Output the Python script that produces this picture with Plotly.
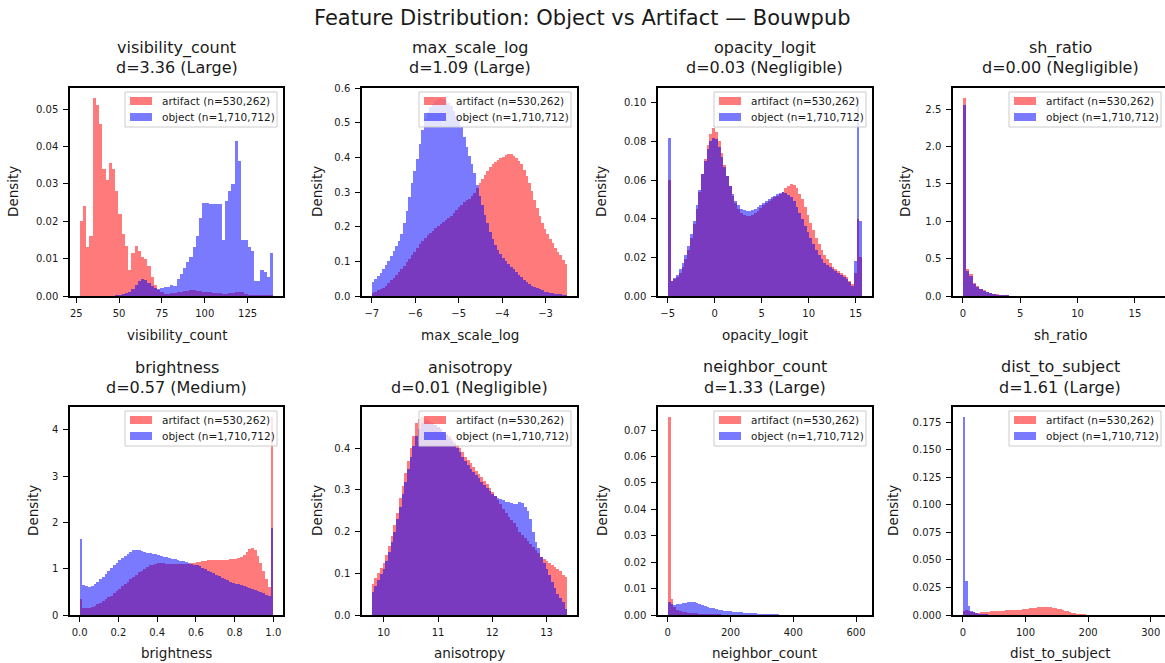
import numpy as np
import plotly.graph_objects as go

# ---------------- data ----------------
features = ["visibility_count", "max_scale_log", "opacity_logit", "sh_ratio",
            "brightness", "anisotropy", "neighbor_count", "dist_to_subject"]
cohens_d = [3.36, 1.09, 0.03, 0.00, 0.57, 0.01, 1.33, 1.61]
effect_size = ["Large", "Large", "Negligible", "Negligible",
               "Medium", "Negligible", "Large", "Large"]
n_artifact = 530262
n_object = 1710712

# histogram bin ranges (data extent of each feature)
bin_lo = [27.0, -7.0, -5.0, 0.0, 0.0, 9.78, 0.0, 0.0]
bin_hi = [140.0, -2.5, 15.7, 17.2, 1.0, 13.38, 620.0, 315.0]

visibility_count_artifact = [
    0.020, 0.024, 0.013, 0.016, 0.053, 0.051, 0.046, 0.034, 0.031, 0.0355,
    0.034, 0.028, 0.022, 0.0165, 0.0135, 0.007, 0.0115, 0.0135, 0.012, 0.0105,
    0.010, 0.008, 0.005, 0.003, 0.0015, 0.001, 0.0006, 0.0006, 0.0007, 0.0008,
    0.0010, 0.0012, 0.0013, 0.0014, 0.0015, 0.0015, 0.0014, 0.0013, 0.0012, 0.0011,
    0.0010, 0.0009, 0.0008, 0.0007, 0.0006, 0.0006, 0.0007, 0.0008, 0.0010, 0.0012,
    0.0010, 0.0006, 0.0004, 0.0003, 0.0003, 0.0002, 0.0002, 0.0002, 0.0002, 0.0002]
visibility_count_object = [
    0, 0, 0, 0, 0, 0, 0, 0, 0, 0,
    0, 0.0002, 0.0003, 0.0005, 0.0008, 0.0012, 0.002, 0.003, 0.004, 0.0045,
    0.0042, 0.0035, 0.0028, 0.0022, 0.002, 0.0022, 0.0025, 0.0025, 0.003, 0.0028,
    0.0045, 0.006, 0.0075, 0.009, 0.0105, 0.013, 0.016, 0.021, 0.025, 0.0248,
    0.0245, 0.0245, 0.0245, 0.0245, 0.015, 0.0255, 0.028, 0.030, 0.0415, 0.036,
    0.015, 0.015, 0.013, 0.012, 0.004, 0.004, 0.007, 0.0065, 0.005, 0.0115]

max_scale_log_artifact = [
    0.008, 0.012, 0.016, 0.020, 0.024, 0.030, 0.037, 0.045, 0.053, 0.061,
    0.069, 0.078, 0.088, 0.098, 0.108, 0.118, 0.127, 0.138, 0.150, 0.160,
    0.168, 0.175, 0.182, 0.188, 0.195, 0.202, 0.208, 0.214, 0.220, 0.226,
    0.232, 0.240, 0.248, 0.256, 0.263, 0.270, 0.276, 0.281, 0.288, 0.298,
    0.312, 0.325, 0.338, 0.350, 0.362, 0.372, 0.380, 0.387, 0.393, 0.398,
    0.402, 0.406, 0.410, 0.409, 0.405, 0.399, 0.391, 0.380, 0.365, 0.346,
    0.325, 0.302, 0.278, 0.254, 0.230, 0.210, 0.194, 0.178, 0.165, 0.152,
    0.140, 0.128, 0.117, 0.105, 0.092]
max_scale_log_object = [
    0.040, 0.048, 0.057, 0.067, 0.078, 0.090, 0.102, 0.115, 0.130, 0.145,
    0.160, 0.180, 0.210, 0.245, 0.285, 0.325, 0.360, 0.395, 0.440, 0.480,
    0.510, 0.530, 0.545, 0.555, 0.563, 0.568, 0.572, 0.570, 0.565, 0.558,
    0.548, 0.535, 0.520, 0.505, 0.488, 0.460, 0.430, 0.405, 0.380, 0.355,
    0.320, 0.290, 0.262, 0.235, 0.210, 0.185, 0.165, 0.148, 0.133, 0.120,
    0.110, 0.101, 0.093, 0.085, 0.077, 0.069, 0.061, 0.054, 0.047, 0.041,
    0.035, 0.030, 0.026, 0.022, 0.019, 0.016, 0.013, 0.011, 0.009, 0.008,
    0.007, 0.006, 0.005, 0.004, 0.004]

opacity_logit_artifact = [
    0.060, 0.008, 0.009, 0.010, 0.012, 0.015, 0.019, 0.024, 0.030, 0.037,
    0.045, 0.054, 0.063, 0.071, 0.078, 0.084, 0.087, 0.085, 0.080, 0.074,
    0.068, 0.062, 0.057, 0.052, 0.048, 0.045, 0.043, 0.042, 0.0415, 0.0415,
    0.042, 0.043, 0.044, 0.0455, 0.047, 0.048, 0.049, 0.050, 0.051, 0.052,
    0.053, 0.054, 0.056, 0.057, 0.058, 0.0575, 0.056, 0.053, 0.050, 0.046,
    0.042, 0.038, 0.034, 0.030, 0.027, 0.024, 0.021, 0.019, 0.017, 0.015,
    0.014, 0.013, 0.012, 0.011, 0.010, 0.008, 0.006, 0.012, 0.040, 0.020]
opacity_logit_object = [
    0.082, 0.008, 0.0095, 0.011, 0.014, 0.017, 0.021, 0.026, 0.032, 0.039,
    0.047, 0.055, 0.063, 0.070, 0.076, 0.080, 0.082, 0.081, 0.077, 0.072,
    0.067, 0.062, 0.057, 0.053, 0.049, 0.047, 0.045, 0.0445, 0.044, 0.044,
    0.0445, 0.045, 0.046, 0.047, 0.048, 0.049, 0.050, 0.051, 0.052, 0.053,
    0.0535, 0.054, 0.0535, 0.0525, 0.051, 0.049, 0.046, 0.043, 0.040, 0.036,
    0.033, 0.030, 0.027, 0.024, 0.021, 0.019, 0.017, 0.016, 0.015, 0.014,
    0.013, 0.012, 0.011, 0.010, 0.009, 0.007, 0.005, 0.018, 0.1025, 0.039]

sh_ratio_artifact = [
    2.65, 0.36, 0.29, 0.18, 0.13, 0.10, 0.075, 0.055, 0.04, 0.03,
    0.022, 0.016, 0.011, 0.008, 0.005, 0.0035, 0.0025, 0.0018, 0.0012, 0.001,
    0.0008, 0.0006, 0.0005, 0.0004, 0.0003, 0.0003, 0.0002, 0.0002, 0.0002, 0.0001,
    0.0001, 0.0001, 0.0001, 0.0001, 0.0001, 0.0001, 0.0001, 0.0001, 0.0001, 0.0001,
    0.0001, 0.0001, 0.0001, 0.0001, 0.0001, 0.0001, 0.0001, 0.0001, 0.0001, 0.0001,
    0.0001, 0.0001, 0.0001, 0.0001, 0.0001, 0.0001, 0.0001, 0.0001, 0.0001, 0.0001]
sh_ratio_object = [
    2.55, 0.34, 0.27, 0.16, 0.12, 0.09, 0.07, 0.05, 0.035, 0.028,
    0.02, 0.014, 0.01, 0.007, 0.005, 0.003, 0.002, 0.0015, 0.001, 0.001,
    0.0008, 0.0006, 0.0005, 0.0004, 0.0003, 0.0003, 0.0002, 0.0002, 0.0002, 0.0001,
    0.0001, 0.0001, 0.0001, 0.0001, 0.0001, 0.0001, 0.0001, 0.0001, 0.0001, 0.0001,
    0.0001, 0.0001, 0.0001, 0.0001, 0.0001, 0.0001, 0.0001, 0.0001, 0.0001, 0.0001,
    0.0001, 0.0001, 0.0001, 0.0001, 0.0001, 0.0001, 0.0001, 0.0001, 0.0001, 0.0001]

brightness_artifact = [
    0.35, 0.15, 0.15, 0.16, 0.18, 0.20, 0.23, 0.26, 0.30, 0.34,
    0.38, 0.42, 0.47, 0.52, 0.57, 0.62, 0.67, 0.72, 0.77, 0.82,
    0.87, 0.92, 0.96, 1.00, 1.04, 1.07, 1.09, 1.11, 1.12, 1.12,
    1.12, 1.11, 1.11, 1.10, 1.10, 1.10, 1.10, 1.10, 1.10, 1.11,
    1.12, 1.13, 1.14, 1.15, 1.16, 1.17, 1.18, 1.18, 1.19, 1.19,
    1.18, 1.18, 1.18, 1.19, 1.20, 1.20, 1.21, 1.23, 1.26, 1.30,
    1.36, 1.43, 1.44, 1.40, 1.28, 1.12, 0.95, 0.78, 0.60, 4.28]
brightness_object = [
    1.65, 0.65, 0.62, 0.60, 0.63, 0.67, 0.72, 0.77, 0.83, 0.89,
    0.95, 1.01, 1.07, 1.13, 1.18, 1.23, 1.28, 1.32, 1.36, 1.40,
    1.41, 1.40, 1.38, 1.37, 1.35, 1.34, 1.32, 1.31, 1.29, 1.28,
    1.26, 1.25, 1.23, 1.22, 1.20, 1.19, 1.17, 1.16, 1.14, 1.13,
    1.11, 1.09, 1.07, 1.05, 1.02, 0.99, 0.96, 0.93, 0.90, 0.87,
    0.84, 0.81, 0.78, 0.75, 0.72, 0.70, 0.68, 0.66, 0.64, 0.62,
    0.60, 0.58, 0.56, 0.54, 0.52, 0.50, 0.47, 0.44, 0.40, 1.87]

anisotropy_artifact = [
    0.075, 0.088, 0.100, 0.112, 0.125, 0.145, 0.165, 0.190, 0.215, 0.245,
    0.280, 0.310, 0.340, 0.370, 0.400, 0.430, 0.460, 0.470, 0.475, 0.473,
    0.470, 0.465, 0.460, 0.455, 0.450, 0.445, 0.440, 0.435, 0.430, 0.423,
    0.415, 0.408, 0.400, 0.390, 0.380, 0.372, 0.365, 0.355, 0.345, 0.338,
    0.330, 0.322, 0.315, 0.305, 0.295, 0.285, 0.275, 0.265, 0.255, 0.245,
    0.235, 0.228, 0.220, 0.210, 0.200, 0.192, 0.185, 0.178, 0.170, 0.162,
    0.155, 0.148, 0.140, 0.135, 0.130, 0.125, 0.120, 0.115, 0.110, 0.105,
    0.095, 0.090]
anisotropy_object = [
    0.055, 0.070, 0.085, 0.098, 0.110, 0.130, 0.150, 0.175, 0.200, 0.230,
    0.260, 0.290, 0.320, 0.350, 0.380, 0.405, 0.430, 0.445, 0.460, 0.465,
    0.465, 0.462, 0.460, 0.455, 0.450, 0.445, 0.440, 0.432, 0.425, 0.418,
    0.410, 0.400, 0.390, 0.380, 0.370, 0.360, 0.350, 0.343, 0.335, 0.328,
    0.320, 0.312, 0.305, 0.298, 0.290, 0.285, 0.280, 0.277, 0.275, 0.272,
    0.270, 0.268, 0.265, 0.267, 0.270, 0.268, 0.260, 0.250, 0.230, 0.200,
    0.175, 0.160, 0.140, 0.125, 0.110, 0.095, 0.080, 0.065, 0.050, 0.040,
    0.030, 0.015]

neighbor_count_artifact = [
    0.075, 0.006, 0.003, 0.002, 0.0015, 0.0012, 0.001, 0.0009, 0.0008, 0.0007,
    0.0006, 0.0005, 0.0004, 0.0004, 0.0003, 0.0003, 0.0002, 0.0002, 0.0002, 0.00015,
    0.00015, 0.0001, 0.0001, 0.0001, 0.0001, 0.00008, 0.00008, 0.00006, 0.00006, 0.00005,
    0.00004, 0.00004, 0.00004, 0.00003, 0.00003, 0.00003, 0.00003, 0.00002, 0.00002, 0.00002,
    0.00002, 0.00002, 0.00002, 0.00001, 0.00001, 0.00001, 0.00001, 0.00001, 0.00001, 0.00001,
    0.00001, 0.00001, 0.00001, 0.00001, 0.00001, 0.00001, 0.00001, 0.00001, 0.00001, 0.00001,
    0.00001, 0.00001, 0.00001, 0.00001, 0.00001, 0.00001, 0.00001, 0.00001, 0.00001, 0.00001]
neighbor_count_object = [
    0.005, 0.0042, 0.0038, 0.004, 0.0042, 0.0045, 0.0046, 0.005, 0.005, 0.0048,
    0.0045, 0.0041, 0.0038, 0.0034, 0.0031, 0.0028, 0.0025, 0.0022, 0.002, 0.0018,
    0.0017, 0.0015, 0.0014, 0.0013, 0.0012, 0.0011, 0.001, 0.0009, 0.0008, 0.0007,
    0.0006, 0.0006, 0.0005, 0.0005, 0.0004, 0.0004, 0.0003, 0.0003, 0.00025, 0.0002,
    0.00018, 0.00016, 0.00014, 0.00012, 0.0001, 0.0001, 0.00009, 0.00008, 0.00007, 0.00006,
    0.00005, 0.00005, 0.00004, 0.00004, 0.00003, 0.00003, 0.00003, 0.00002, 0.00002, 0.00002,
    0.00002, 0.00002, 0.00001, 0.00001, 0.00001, 0.00001, 0.00001, 0.00001, 0.00001, 0.00001]

dist_to_subject_artifact = [
    0.004, 0.005, 0.004, 0.003, 0.0025, 0.0022, 0.0022, 0.0023, 0.0025, 0.0027,
    0.0030, 0.0032, 0.0034, 0.0036, 0.0038, 0.0039, 0.0040, 0.0041, 0.0042, 0.0043,
    0.0044, 0.0045, 0.0047, 0.0049, 0.0052, 0.0055, 0.0058, 0.0061, 0.0064, 0.0067,
    0.0069, 0.0071, 0.0072, 0.0072, 0.0071, 0.0069, 0.0066, 0.0062, 0.0057, 0.0051,
    0.0045, 0.0038, 0.0032, 0.0026, 0.0020, 0.0015, 0.0011, 0.0008, 0.0006, 0.0005,
    0.0004, 0.0003, 0.0003, 0.0002, 0.0002, 0.0002, 0.00015, 0.00015, 0.0001, 0.0001,
    0.0001, 0.0001, 0.00008, 0.00008, 0.00006, 0.00006, 0.00005, 0.00005, 0.00004, 0.00004,
    0.00003, 0.00003, 0.00003, 0.00002, 0.00002, 0.00002, 0.00002, 0.00001, 0.00001, 0.00001]
dist_to_subject_object = [
    0.180, 0.031, 0.008, 0.004, 0.0025, 0.0015, 0.001, 0.0008, 0.0006, 0.0005,
    0.0004, 0.0003, 0.0003, 0.0002, 0.0002, 0.00015, 0.00015, 0.0001, 0.0001, 0.0001,
    0.0001, 0.0001, 0.0001, 0.0001, 0.0001, 0.0001, 0.00008, 0.00008, 0.00008, 0.00006,
    0.00006, 0.00005, 0.00005, 0.00004, 0.00004, 0.00003, 0.00003, 0.00002, 0.00002, 0.00002,
    0.00001, 0.00001, 0.00001, 0.00001, 0.00001, 0, 0, 0, 0, 0,
    0, 0, 0, 0, 0, 0, 0, 0, 0, 0,
    0, 0, 0, 0, 0, 0, 0, 0, 0, 0,
    0, 0, 0, 0, 0, 0, 0, 0, 0, 0]

artifact_series = [visibility_count_artifact, max_scale_log_artifact, opacity_logit_artifact,
                   sh_ratio_artifact, brightness_artifact, anisotropy_artifact,
                   neighbor_count_artifact, dist_to_subject_artifact]
object_series = [visibility_count_object, max_scale_log_object, opacity_logit_object,
                 sh_ratio_object, brightness_object, anisotropy_object,
                 neighbor_count_object, dist_to_subject_object]

# tick labels
x_tickvals = [[25, 50, 75, 100, 125], [-7, -6, -5, -4, -3], [-5, 0, 5, 10, 15], [0, 5, 10, 15],
              [0, 0.2, 0.4, 0.6, 0.8, 1.0], [10, 11, 12, 13], [0, 200, 400, 600], [0, 100, 200, 300]]
x_tickfmt = ["d", "d", "d", "d", ".1f", "d", "d", "d"]
y_dtick = [0.01, 0.1, 0.02, 0.5, 1, 0.1, 0.01, 0.025]
y_tickfmt = [".2f", ".1f", ".2f", ".1f", "d", ".1f", ".2f", ".3f"]

# ---------------- layout (pixel geometry) ----------------
W, H = 1165, 663
col_px = [(70, 283), (362, 577), (658, 872), (953, 1170)]
row_px = [(88, 296), (407, 615)]
ylabel_offset = [57, 45, 57, 48, 37, 45, 56, 60]
xlabel_offset = [39, 38]

FONT = "DejaVu Sans"
TXT = "#1a1a1a"
RED = "rgba(255,0,0,0.52)"
BLUE = "rgba(0,0,255,0.52)"


def px(xp):
    return xp / W


def py(yp):
    return 1 - yp / H


fig = go.Figure()
annotations = []
shapes = []
lay = {}

for k in range(8):
    r, c = divmod(k, 4)
    art = artifact_series[k]
    obj = object_series[k]
    if len(art) != len(obj):
        raise ValueError(f"length mismatch in {features[k]}")
    lo, hi = bin_lo[k], bin_hi[k]
    edges = np.linspace(lo, hi, len(art) + 1)
    centers = 0.5 * (edges[:-1] + edges[1:])
    bw = edges[1] - edges[0]
    sfx = "" if k == 0 else str(k + 1)
    labels = (f"artifact (n={n_artifact:,})", f"object (n={n_object:,})")

    for vals, color, label in ((art, RED, labels[0]), (obj, BLUE, labels[1])):
        fig.add_trace(go.Bar(
            x=centers, y=vals, width=bw, name=label,
            marker=dict(color=color, line=dict(width=0)),
            xaxis="x" + sfx, yaxis="y" + sfx,
            showlegend=False, hoverinfo="skip"))

    x0p, x1p = col_px[c]
    y0p, y1p = row_px[r]
    span = hi - lo
    xr0, xr1 = lo - 0.05 * span, hi + 0.05 * span
    x1v = x1p
    clipped = x1p > W
    if clipped:  # right column is cut by the figure edge
        xr1 = xr0 + (xr1 - xr0) * (W - x0p) / (x1p - x0p)
        x1v = W
    ytop = 1.05 * max(max(art), max(obj))

    axis_common = dict(showline=True, linecolor="black", linewidth=1.5,
                       ticks="outside", ticklen=5, tickwidth=1.2, tickcolor="black",
                       showgrid=False, zeroline=False, automargin=False,
                       tickfont=dict(size=10, family=FONT, color=TXT))
    lay["xaxis" + sfx] = dict(domain=[px(x0p), px(x1v)], anchor="y" + sfx,
                              range=[xr0, xr1], tickmode="array", mirror=True,
                              ticklabelstandoff=2,
                              tickvals=x_tickvals[k], tickformat=x_tickfmt[k], **axis_common)
    lay["yaxis" + sfx] = dict(domain=[py(y1p), py(y0p)], anchor="x" + sfx,
                              range=[0, ytop], tickmode="linear", tick0=0,
                              mirror=not clipped, ticklabelstandoff=3,
                              dtick=y_dtick[k], tickformat=y_tickfmt[k], **axis_common)

    # legend box in the upper-right corner of each panel
    R = min(x1p, W + 2) - 6
    shapes.append(dict(type="rect", xref="paper", yref="paper", layer="above",
                       x0=px(R - 152), x1=px(R), y0=py(y0p + 39), y1=py(y0p + 4),
                       fillcolor="rgba(255,255,255,0.8)", line=dict(color="#cccccc", width=1)))
    for j, (color, label) in enumerate(((RED, labels[0]), (BLUE, labels[1]))):
        yc = y0p + 13 + 16 * j
        shapes.append(dict(type="rect", xref="paper", yref="paper", layer="above",
                           x0=px(R - 147), x1=px(R - 125), y0=py(yc + 4), y1=py(yc - 4),
                           fillcolor=color, line=dict(width=0)))
        annotations.append(dict(text=label, x=px(R - 117), y=py(yc),
                                xref="paper", yref="paper", showarrow=False,
                                xanchor="left", yanchor="middle",
                                font=dict(size=10.5, family=FONT, color=TXT)))

    xc = (x0p + min(x1p, 1167)) / 2
    # subplot titles (two lines)
    annotations.append(dict(text=features[k], x=px(xc), y=py(y0p - 40),
                            xref="paper", yref="paper", showarrow=False,
                            xanchor="center", yanchor="middle",
                            font=dict(size=16, family=FONT, color=TXT)))
    annotations.append(dict(text=f"d={cohens_d[k]:.2f} ({effect_size[k]})",
                            x=px(xc), y=py(y0p - 20),
                            xref="paper", yref="paper", showarrow=False,
                            xanchor="center", yanchor="middle",
                            font=dict(size=16, family=FONT, color=TXT)))
    # axis labels
    annotations.append(dict(text=features[k], x=px(xc), y=py(y1p + xlabel_offset[r]),
                            xref="paper", yref="paper", showarrow=False,
                            xanchor="center", yanchor="middle",
                            font=dict(size=13.5, family=FONT, color=TXT)))
    annotations.append(dict(text="Density", x=px(x0p - ylabel_offset[k]),
                            y=py((y0p + y1p) / 2),
                            xref="paper", yref="paper", showarrow=False, textangle=-90,
                            xanchor="center", yanchor="middle",
                            font=dict(size=13.5, family=FONT, color=TXT)))

annotations.append(dict(text="Feature Distribution: Object vs Artifact \u2014 Bouwpub",
                        x=0.5, y=py(18), xref="paper", yref="paper", showarrow=False,
                        xanchor="center", yanchor="middle",
                        font=dict(size=21, family=FONT, color=TXT)))

fig.update_layout(
    template="none",
    width=W, height=H, margin=dict(l=0, r=0, t=0, b=0, pad=0),
    paper_bgcolor="white", plot_bgcolor="white",
    barmode="overlay", bargap=0, showlegend=False,
    font=dict(family=FONT, color=TXT),
    annotations=annotations, shapes=shapes,
    **lay)

fig.write_html("out.html",
               config={"displayModeBar": False},
               post_script="document.body.style.margin='0px';"
                           "document.body.style.overflow='hidden';")
